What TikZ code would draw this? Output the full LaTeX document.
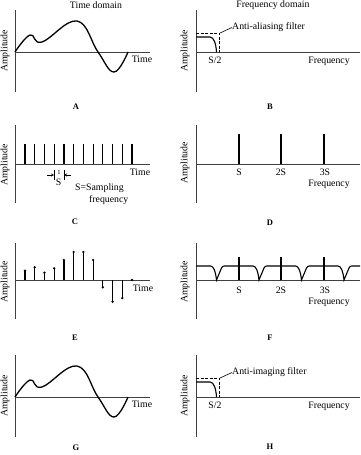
\documentclass[tikz,border=0pt]{standalone}
\usepackage{fontspec}
\setmainfont{Liberation Serif}
\begin{document}
\begin{tikzpicture}[x=1pt,y=-1pt,
 axis/.style={line width=0.7pt, black!75},
 wave/.style={line width=1.3pt},
 imp/.style={line width=1.2pt},
 lbl/.style={font=\fontsize{9.8}{11}\selectfont, inner sep=0pt},
 small/.style={font=\fontsize{6.5}{7}\selectfont, inner sep=0pt},
 amp/.style={font=\fontsize{9.8}{11}\selectfont, inner sep=0pt, rotate=90},
 tag/.style={font=\fontsize{8.5}{9}\selectfont\bfseries, inner sep=0pt},
 filt/.style={line width=1.1pt},
 dfilt/.style={line width=0.9pt, dash pattern=on 3pt off 1.5pt},
 pointer/.style={line width=0.6pt}]
\useasboundingbox (0,0) rectangle (361,455);

% titles
\node[lbl] (tTime) at (96,5) {Time domain};
\node[lbl] (tFreq) at (273,5) {Frequency domain};

% ---------- A and G: analog waveform ----------
\foreach \dy/\tg in {0/A, 345/G}{
\begin{scope}[shift={(0,\dy)}]
 \draw[axis] (15,10) -- (15,92);
 \draw[axis] (15,52) -- (150,52);
 \draw[wave] plot[smooth,tension=0.7] coordinates {(15,52) (30,35) (42,42) (77,21) (98,52) (114,72) (128,52)};
 \node[lbl] (time\tg) at (142,59.5) {Time};
 \node[amp] (amp\tg) at (5,51) {Amplitude};
\end{scope}
}
\node[tag] (labA) at (76,107) {A};
\node[tag] (labG) at (76,448) {G};

% ---------- B and H: filter spectrum ----------
\foreach \dy/\tg/\ftxt in {0/B/Anti-aliasing filter, 345/H/Anti-imaging filter}{
\begin{scope}[shift={(0,\dy)}]
 \draw[axis] (196,10) -- (196,92);
 \draw[axis] (196,52) -- (360,52);
 \draw[filt] (196,37) -- (210,37) .. controls (214,37) and (216,44) .. (216.5,52);
 \draw[dfilt] (196,33) -- (219.5,33) -- (219.5,52);
 \coordinate (corner\tg) at (220,33);
 \node[lbl, anchor=west] (filt\tg) at (232,27.5) {\ftxt};
 \draw[pointer] (filt\tg.west) -- (corner\tg);
 \node[lbl] (half\tg) at (215,60) {S/2};
 \node[lbl] (freq\tg) at (329,61) {Frequency};
 \node[amp] (amp\tg) at (185,51) {Amplitude};
\end{scope}
}
\node[tag] (labB) at (270,107) {B};
\node[tag] (labH) at (270,447) {H};

% ---------- C: sampling impulses ----------
\draw[axis] (15,125) -- (15,203);
\draw[axis] (15,164) -- (150,164);
\foreach \i in {0,...,11} \draw[imp] ({25+\i*9.73},164) -- ({25+\i*9.73},144);
\node[lbl] (timeC) at (140,172) {Time};
\node[amp] (ampC) at (5,165) {Amplitude};
\coordinate (pl) at (54.2,175);
\coordinate (pr) at (63.9,175);
\draw[line width=0.5pt] (54.2,170) -- (54.2,180) (63.9,170) -- (63.9,180);
\coordinate (pla) at (47,175);
\coordinate (pra) at (71,175);
\draw[line width=0.5pt,-stealth] (pla) -- (pl);
\draw[line width=0.5pt,-stealth] (pra) -- (pr);
\node[small] (one) at (59,172) {1};
\node[lbl] (sC) at (58.5,182) {S};
\node[lbl, anchor=west] (sdef1) at (75,188.5) {S=Sampling};
\node[lbl, anchor=west] (sdef2) at (89,200) {frequency};
\node[tag] (labC) at (75,222) {C};

% ---------- D: spectrum lines ----------
\draw[axis] (196,125) -- (196,203);
\draw[axis] (196,164) -- (360,164);
\foreach \x in {239,281,324} \draw[imp] (\x,164) -- (\x,134);
\node[lbl] (sD) at (239,172) {S};
\node[lbl] (s2D) at (281,172) {2S};
\node[lbl] (s3D) at (325,172) {3S};
\node[lbl] (freqD) at (329,184) {Frequency};
\node[amp] (ampD) at (185,163) {Amplitude};
\node[tag] (labD) at (270,223) {D};

% ---------- E: sampled signal ----------
\draw[axis] (15,243) -- (15,319);
\draw[axis] (15,280) -- (150,280);
\foreach \i/\y in {0/270.7, 1/267.3, 2/272.7, 3/268.3, 4/260, 5/252, 6/252, 7/260, 8/287.3, 9/301.7, 10/298, 11/280}{
 \draw[imp] ({25+\i*9.73},280) -- ({25+\i*9.73},\y);
 \fill ({25+\i*9.73},\y) circle[radius=1.3pt];
}
\node[lbl] (timeE) at (143,288) {Time};
\node[amp] (ampE) at (5,282) {Amplitude};
\node[tag] (labE) at (75,338) {E};

% ---------- F: sampled spectrum ----------
\draw[axis] (196,243) -- (196,319);
\draw[axis] (196,280) -- (360,280);
\draw[filt] (196,266)
 \foreach \z in {217.5,260,302.5,345}{
  -- ({\z-7},266) .. controls ({\z-4},266) and ({\z-2},271) .. ({\z-1},280)
  -- ({\z+4},268) .. controls ({\z+4.7},266.4) and ({\z+5.5},266) .. ({\z+7},266)
 } -- (360,266);
\foreach \x in {239,281,324} \draw[imp] (\x,280) -- (\x,257);
\node[lbl] (sF) at (239,290) {S};
\node[lbl] (s2F) at (281,290) {2S};
\node[lbl] (s3F) at (325,290) {3S};
\node[lbl] (freqF) at (329,302) {Frequency};
\node[amp] (ampF) at (185,282) {Amplitude};
\node[tag] (labF) at (270,338) {F};

\end{tikzpicture}
\end{document}
